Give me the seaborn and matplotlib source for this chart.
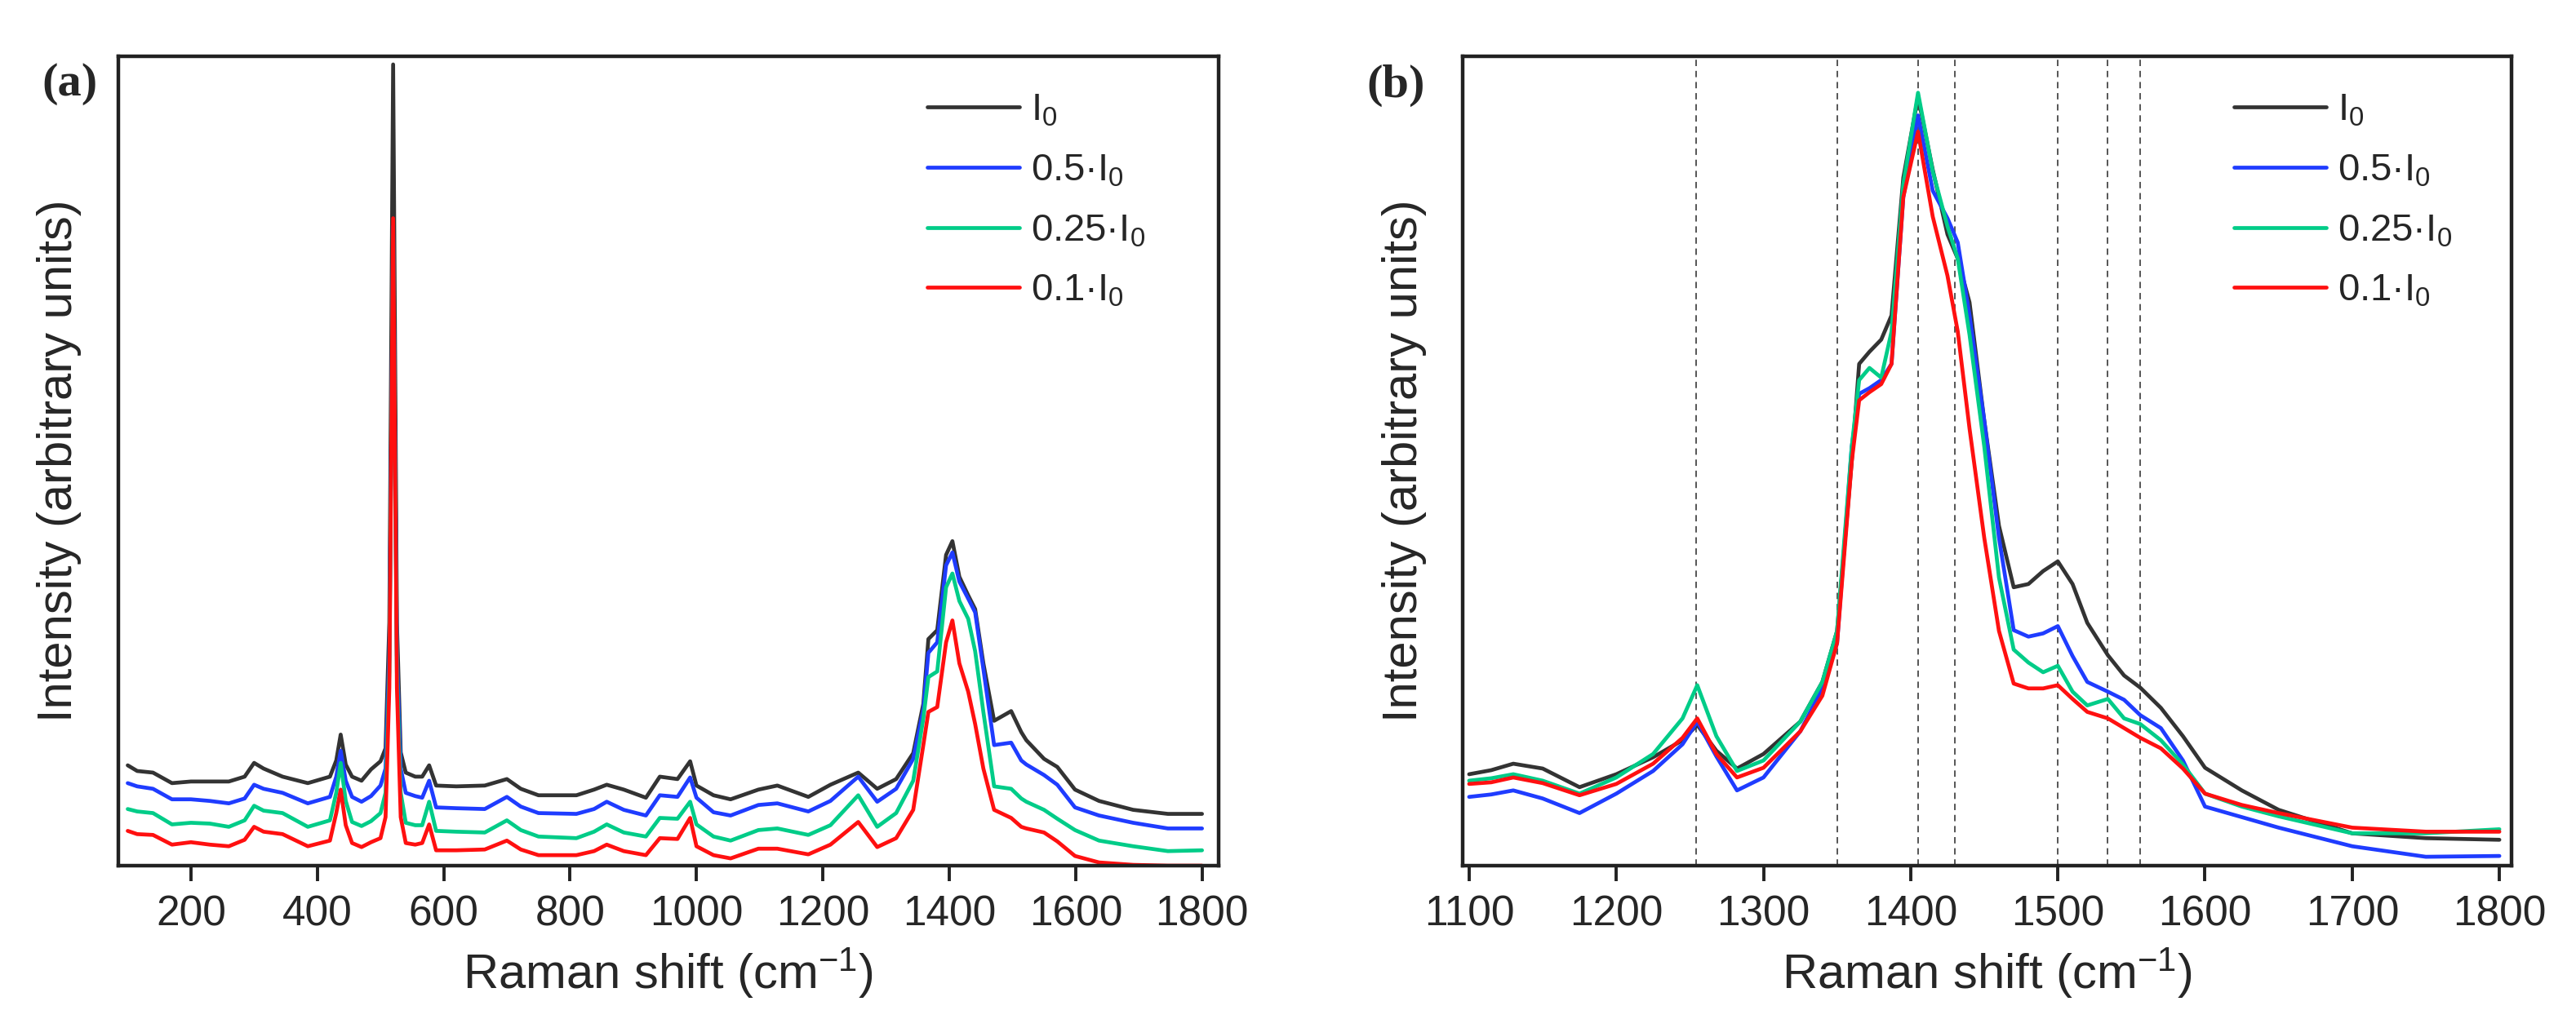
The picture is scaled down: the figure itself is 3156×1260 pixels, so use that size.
import matplotlib
matplotlib.use("Agg")
import numpy as np
import pandas as pd
import matplotlib.pyplot as plt
import seaborn as sns

# Panel (a): full Raman spectra (intensity in arbitrary units)
xa = [100, 115, 140, 170, 200, 230, 260, 285, 300, 315, 345, 385, 420, 430, 437, 445, 455, 470,
      485, 500, 508, 514, 520, 526, 532, 540, 555, 566, 577, 588, 620, 665, 700, 722, 750, 810,
      838, 858, 885, 920, 942, 970, 990, 1000, 1027, 1054, 1098, 1128, 1177, 1212, 1256, 1286,
      1316, 1343, 1359, 1367, 1381, 1395, 1405, 1416, 1430, 1441, 1454, 1471, 1498, 1514, 1522,
      1550, 1571, 1599, 1637, 1691, 1746, 1800]
a_i0 = [12.4, 11.7, 11.5, 10.2, 10.4, 10.4, 10.4, 11.0, 12.7, 12.0, 11.0, 10.2, 11.0, 13.0, 16.2, 12.5, 11.0, 10.5,
        11.9, 12.9, 14.5, 30.0, 99.0, 30.0, 14.0, 11.5, 11.0, 11.0, 12.4, 9.9, 9.8, 9.9, 10.7, 9.5, 8.7, 8.7,
        9.4, 10.0, 9.4, 8.4, 11.0, 10.7, 12.9, 9.9, 8.7, 8.2, 9.4, 9.9, 8.5, 10.0, 11.5, 9.5,
        10.7, 13.9, 20.0, 28.0, 29.1, 38.4, 40.1, 35.7, 33.4, 31.7, 25.0, 17.9, 19.1, 16.5, 15.5,
        13.2, 12.2, 9.4, 8.0, 6.9, 6.4, 6.4]
a_i05 = [10.2, 9.8, 9.5, 8.2, 8.2, 8.0, 7.7, 8.3, 10.0, 9.5, 9.0, 7.7, 8.5, 11.0, 14.2, 10.5, 8.5, 7.9,
         8.6, 9.9, 12.0, 26.0, 79.0, 26.0, 12.0, 9.0, 8.6, 8.4, 10.5, 7.2, 7.1, 7.0, 8.5, 7.3, 6.5, 6.4,
         7.0, 7.9, 6.9, 6.2, 8.7, 8.5, 10.9, 8.4, 6.6, 6.2, 7.5, 7.7, 6.7, 8.0, 11.0, 7.9,
         9.5, 13.2, 19.3, 26.3, 27.6, 37.1, 38.7, 35.1, 33.0, 31.3, 24.3, 14.9, 15.2, 13.0, 12.5,
         11.2, 10.0, 7.2, 6.2, 5.3, 4.6, 4.6]
a_i025 = [7.0, 6.7, 6.5, 5.1, 5.3, 5.2, 4.8, 5.6, 7.4, 6.8, 6.5, 4.8, 5.6, 9.0, 12.7, 8.0, 5.4, 4.9,
          5.5, 6.5, 9.0, 24.0, 78.0, 24.0, 9.0, 5.3, 5.0, 5.0, 7.9, 4.3, 4.2, 4.1, 5.6, 4.4, 3.6, 3.4,
          4.2, 5.1, 4.1, 3.6, 5.9, 5.8, 7.9, 5.1, 3.6, 3.1, 4.4, 4.6, 3.8, 5.0, 8.7, 4.8,
          6.5, 10.5, 18.2, 23.3, 24.0, 34.4, 36.1, 32.7, 30.5, 26.5, 19.0, 9.8, 9.5, 8.3, 7.9,
          6.9, 5.8, 4.4, 3.1, 2.4, 1.8, 1.9]
a_i01 = [4.3, 3.9, 3.8, 2.6, 2.9, 2.6, 2.4, 3.2, 4.8, 4.2, 3.9, 2.4, 3.1, 6.5, 9.4, 5.0, 2.8, 2.3,
         2.9, 3.4, 6.0, 22.0, 80.0, 22.0, 6.0, 2.8, 2.6, 2.8, 5.1, 1.9, 1.9, 2.0, 3.1, 2.0, 1.3, 1.3,
         1.8, 2.6, 1.8, 1.3, 3.4, 3.3, 5.9, 2.4, 1.3, 0.9, 2.1, 2.1, 1.4, 2.6, 5.4, 2.3,
         3.4, 6.9, 14.9, 19.0, 19.6, 27.6, 30.3, 25.0, 21.5, 17.5, 12.0, 6.9, 5.9, 4.8, 4.6,
         4.1, 3.0, 1.2, 0.4, 0.1, 0.0, 0.0]

# Panel (b): zoom on 1100-1800 cm-1
xb = [1100, 1115, 1130, 1150, 1175, 1200, 1225, 1245, 1255, 1268, 1282, 1300, 1325, 1340, 1350,
      1360, 1365, 1372, 1380, 1387, 1395, 1405, 1415, 1425, 1432, 1440, 1450, 1460, 1470, 1480,
      1490, 1500, 1510, 1520, 1534, 1545, 1556, 1570, 1585, 1600, 1625, 1650, 1700, 1750, 1800]
b_i0 = [11.3, 11.8, 12.6, 12.0, 9.7, 11.3, 13.4, 15.5, 17.4, 14.2, 12.0, 13.8, 17.8, 22.7, 29.0,
        50.0, 62.0, 63.5, 65.0, 68.0, 85.0, 95.0, 86.0, 78.0, 75.0, 69.6, 55.0, 42.0, 34.4, 34.8,
        36.4, 37.6, 34.8, 30.0, 26.0, 23.5, 22.0, 19.5, 16.0, 12.1, 9.3, 6.9, 4.0, 3.4, 3.2]
b_i05 = [8.5, 8.8, 9.3, 8.3, 6.5, 8.9, 11.7, 15.0, 17.8, 13.5, 9.3, 10.9, 16.6, 21.9, 27.5,
         51.8, 58.3, 59.0, 60.0, 62.0, 82.6, 92.7, 83.4, 80.0, 77.0, 68.0, 55.0, 40.5, 29.1, 28.3,
         28.7, 29.6, 25.9, 22.7, 21.5, 20.5, 18.6, 17.0, 13.0, 7.3, 6.0, 4.7, 2.4, 1.1, 1.2]
b_i025 = [10.5, 10.8, 11.3, 10.5, 8.9, 10.9, 13.8, 18.2, 22.3, 16.0, 11.7, 13.0, 17.8, 22.7, 29.0,
          51.8, 60.0, 61.5, 60.3, 66.0, 84.2, 95.5, 85.8, 79.0, 75.0, 65.6, 51.8, 35.6, 26.7, 25.1,
          23.9, 24.7, 21.5, 19.8, 20.6, 18.2, 17.5, 15.5, 12.5, 8.9, 7.3, 6.1, 4.0, 4.0, 4.5]
b_i01 = [10.1, 10.3, 10.9, 10.2, 8.7, 10.1, 12.6, 15.8, 18.2, 13.8, 10.9, 12.1, 16.6, 21.0, 27.5,
         50.0, 57.5, 58.5, 59.5, 62.0, 82.6, 90.7, 80.2, 72.9, 66.0, 54.0, 40.5, 29.0, 22.5, 21.9,
         21.9, 22.3, 20.6, 19.0, 18.2, 17.0, 15.8, 14.5, 12.0, 8.9, 7.5, 6.5, 4.7, 4.2, 4.2]
band_lines = [1254, 1350, 1405, 1430, 1500, 1534, 1556]

labels = [r"$\mathrm{I}_0$", r"0.5·$\mathrm{I}_0$", r"0.25·$\mathrm{I}_0$", r"0.1·$\mathrm{I}_0$"]
colors = ["#333333", "#1f3cff", "#00cc88", "#ff1010"]

df_a = pd.DataFrame({"shift": xa * 4,
                     "intensity": a_i0 + a_i05 + a_i025 + a_i01,
                     "power": np.repeat(labels, len(xa))})
df_b = pd.DataFrame({"shift": xb * 4,
                     "intensity": b_i0 + b_i05 + b_i025 + b_i01,
                     "power": np.repeat(labels, len(xb))})

sns.set_theme(style="white")
plt.rcParams['font.family'] = ['Liberation Sans', 'DejaVu Sans']
plt.rcParams['mathtext.fontset'] = 'custom'
plt.rcParams['mathtext.rm'] = 'Liberation Sans'
plt.rcParams['mathtext.it'] = 'Liberation Sans:italic'
plt.rcParams['mathtext.bf'] = 'Liberation Sans:bold'

fig = plt.figure(figsize=(15.78, 6.3), dpi=200)
ax_a = fig.add_axes([0.0459, 0.1579, 0.4271, 0.7873])
ax_b = fig.add_axes([0.5678, 0.1579, 0.4072, 0.7873])

for x in band_lines:
    ax_b.axvline(x, color="#555555", lw=0.7, ls=(0, (4, 3)), zorder=0)

for ax, df in [(ax_a, df_a), (ax_b, df_b)]:
    sns.lineplot(data=df, x="shift", y="intensity", hue="power", hue_order=labels,
                 palette=colors, estimator=None, sort=False, lw=1.7, ax=ax)
    for s in ax.spines.values():
        s.set_linewidth(1.6)
        s.set_color("#222222")
    ax.set_yticks([])
    ax.tick_params(axis="x", direction="out", length=6.8, width=1.4, color="#222222",
                   labelsize=18.5, pad=6, bottom=True)
    ax.set_xlabel("Raman shift (cm$^{-1}$)", fontsize=21.5, labelpad=5)
    ax.set_ylabel("Intensity (arbitrary units)", fontsize=21.5, labelpad=16)
    handles, _ = ax.get_legend_handles_labels()
    ax.legend(handles, labels, loc="upper left", bbox_to_anchor=(0.735, 0.955),
              frameon=False, fontsize=17, handlelength=2.4, handletextpad=0.3,
              labelspacing=0.63, borderpad=0, borderaxespad=0)

ax_a.set_xlim(85, 1826)
ax_a.set_ylim(0, 100)
ax_a.set_xticks(range(200, 1801, 200))
ax_b.set_xlim(1095.6, 1808.3)
ax_b.set_ylim(0, 100)
ax_b.set_xticks(range(1100, 1801, 100))

fig.text(0.027, 0.918, "(a)", fontsize=21, fontweight="bold", family="Liberation Serif",
         ha="center", va="center")
fig.text(0.542, 0.917, "(b)", fontsize=21, fontweight="bold", family="Liberation Serif",
         ha="center", va="center")

fig.savefig("out.png", dpi=200)
